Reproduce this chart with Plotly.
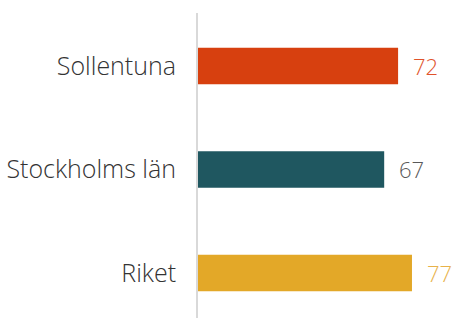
import plotly.graph_objects as go

categories = ["Sollentuna", "Stockholms län", "Riket"]
values = [72, 67, 77]
bar_colors = ["#D7400F", "#1F5760", "#E3A828"]
label_colors = ["#E0522A", "#595959", "#E8B24A"]

FONT = "Open Sans"

fig = go.Figure()
fig.add_trace(go.Bar(
    y=categories, x=values, orientation="h",
    marker=dict(color=bar_colors, line=dict(width=0)),
    width=0.353, hoverinfo="skip",
))

for c, v, col in zip(categories, values, label_colors):
    fig.add_annotation(x=v, y=c, text=str(v), showarrow=False,
                       xanchor="left", xshift=13, yshift=0,
                       font=dict(family=FONT, size=22, color=col, weight=300))

fig.update_layout(
    width=452, height=318,
    margin=dict(l=198, r=0, t=13, b=0, autoexpand=False),
    paper_bgcolor="white", plot_bgcolor="white",
    showlegend=False,
    font=dict(family=FONT, size=25, color="#333333", weight=300),
    xaxis=dict(range=[0, 91.4], visible=False, showgrid=False, zeroline=False,
               automargin=False),
    yaxis=dict(type="category", range=[2.435, -0.512], automargin=False,
               showgrid=False, zeroline=False,
               showline=True, linecolor="#D9D9D9", linewidth=2,
               ticks="", ticklabelstandoff=15,
               tickfont=dict(family=FONT, size=25, color="#333333", weight=300)),
)

fig.write_html("out.html", config={"displayModeBar": False},
               post_script="document.body.style.margin='0';document.body.style.padding='0';")
